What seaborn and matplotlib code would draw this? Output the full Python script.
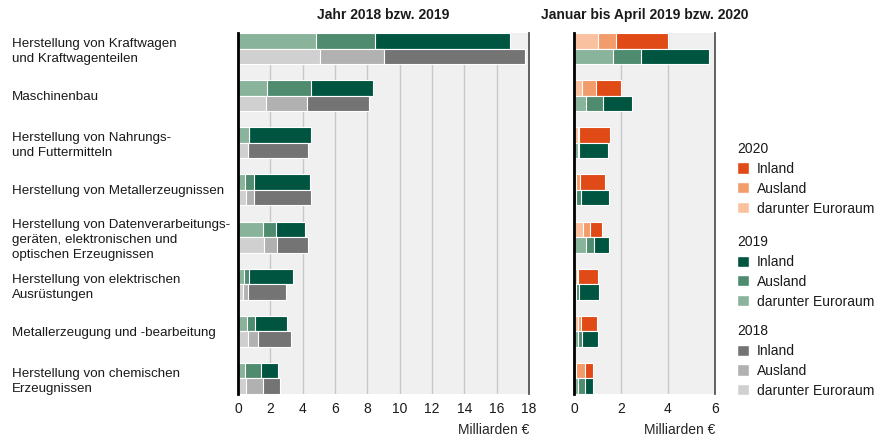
import pandas as pd
import matplotlib.pyplot as plt
import seaborn as sns
from matplotlib.patches import Patch

# Branchen (Reihenfolge von oben nach unten)
branchen = [
    'Herstellung von Kraftwagen\nund Kraftwagenteilen',
    'Maschinenbau',
    'Herstellung von Nahrungs-\nund Futtermitteln',
    'Herstellung von Metallerzeugnissen',
    'Herstellung von Datenverarbeitungs-\ngeräten, elektronischen und\noptischen Erzeugnissen',
    'Herstellung von elektrischen\nAusrüstungen',
    'Metallerzeugung und -bearbeitung',
    'Herstellung von chemischen\nErzeugnissen',
]

# Jahr 2018 bzw. 2019 (Milliarden Euro): darunter Euroraum, Ausland gesamt, Umsatz gesamt
jahr19_euro = [4.85, 1.81, 0.68, 0.45, 1.52, 0.35, 0.55, 0.45]
jahr19_ausland = [8.47, 4.54, 0.70, 0.97, 2.38, 0.68, 1.07, 1.44]
jahr19_gesamt = [16.80, 8.32, 4.52, 4.48, 4.17, 3.41, 3.00, 2.45]

jahr18_euro = [5.10, 1.73, 0.60, 0.49, 1.58, 0.29, 0.60, 0.47]
jahr18_ausland = [9.06, 4.25, 0.62, 1.00, 2.40, 0.62, 1.21, 1.56]
jahr18_gesamt = [17.75, 8.12, 4.36, 4.54, 4.34, 2.94, 3.27, 2.61]

# Januar bis April 2019 bzw. 2020
jan20_euro = [1.01, 0.36, 0.15, 0.10, 0.37, 0.11, 0.17, 0.10]
jan20_ausland = [1.78, 0.95, 0.20, 0.24, 0.68, 0.18, 0.30, 0.45]
jan20_gesamt = [3.98, 2.00, 1.54, 1.32, 1.19, 1.04, 0.97, 0.81]

jan19_euro = [1.65, 0.51, 0.15, 0.09, 0.51, 0.09, 0.17, 0.16]
jan19_ausland = [2.86, 1.25, 0.20, 0.30, 0.85, 0.20, 0.34, 0.45]
jan19_gesamt = [5.74, 2.46, 1.45, 1.48, 1.49, 1.05, 1.04, 0.82]

# Farben: Inland, Ausland, darunter Euroraum
farben = {
    '2020': ['#e04a17', '#f39c6b', '#f9c19f'],
    '2019': ['#005541', '#4f8c6f', '#8ab39b'],
    '2018': ['#747474', '#b1b1b1', '#d0d0d0'],
}


def make_df(jahre, euro, ausland, gesamt):
    rows = []
    for j, e, a, g in zip(jahre, euro, ausland, gesamt):
        for b, ev, av, gv in zip(branchen, e, a, g):
            rows.append({'Branche': b, 'Jahr': j, 'euro': ev, 'ausland': av, 'gesamt': gv})
    return pd.DataFrame(rows)


df_jahr = make_df(['2019', '2018'], [jahr19_euro, jahr18_euro],
                  [jahr19_ausland, jahr18_ausland], [jahr19_gesamt, jahr18_gesamt])
df_jan = make_df(['2020', '2019'], [jan20_euro, jan19_euro],
                 [jan20_ausland, jan19_ausland], [jan20_gesamt, jan19_gesamt])

sns.set_theme(style='white')
plt.rcParams['font.family'] = ['Liberation Sans', 'DejaVu Sans']
plt.rcParams['text.color'] = '#1a1a1a'

fig = plt.figure(figsize=(8.75, 4.41), dpi=100)
ax1 = fig.add_axes([238 / 875, 1 - 394 / 441, 291 / 875, 361 / 441])
ax2 = fig.add_axes([574 / 875, 1 - 394 / 441, 141 / 875, 361 / 441])


def draw_panel(ax, df, jahre, xmax, title):
    ax.set_facecolor('#f0f0f0')
    # gestapelt: zuerst Gesamt (Inland), dann Ausland, dann Euroraum darüber
    for i, col in enumerate(['gesamt', 'ausland', 'euro']):
        sns.barplot(data=df, x=col, y='Branche', hue='Jahr', hue_order=jahre,
                    palette={jahre[0]: farben[jahre[0]][i], jahre[1]: farben[jahre[1]][i]},
                    width=0.66, dodge=True, saturation=1, legend=False,
                    edgecolor='white', linewidth=0.8, ax=ax)
    ax.set_xlim(0, xmax)
    ax.set_ylim(7.33, -0.33)
    ax.set_xticks(range(0, xmax + 1, 2))
    ax.grid(axis='x', color='#c8c8c8', linewidth=1)
    ax.set_axisbelow(True)
    ax.tick_params(axis='both', length=0, labelsize=10, colors='#1a1a1a')
    ax.tick_params(axis='x', pad=6)
    for s in ['top', 'bottom']:
        ax.spines[s].set_visible(False)
    ax.spines['left'].set_color('black')
    ax.spines['left'].set_linewidth(2)
    ax.spines['right'].set_color('#555555')
    ax.spines['right'].set_linewidth(1.3)
    ax.set_ylabel('')
    ax.set_xlabel('Milliarden €', loc='right', fontsize=10, labelpad=5)
    ax.set_title(title, fontweight='bold', fontsize=10, pad=10)


draw_panel(ax1, df_jahr, ['2019', '2018'], 18, 'Jahr 2018 bzw. 2019')
draw_panel(ax2, df_jan, ['2020', '2019'], 6, 'Januar bis April 2019 bzw. 2020')

ax1.tick_params(axis='y', pad=163, labelsize=9.6)
for lbl in ax1.get_yticklabels():
    lbl.set_horizontalalignment('left')
    lbl.set_linespacing(1.35)
ax2.set_yticklabels([])

# Legende in drei Gruppen
teile = ['Inland', 'Ausland', 'darunter Euroraum']
for jahr, ytop in [('2020', 0.678), ('2019', 0.467), ('2018', 0.265)]:
    handles = [Patch(facecolor=c) for c in farben[jahr]]
    fig.legend(handles, teile, title=jahr, loc='upper left', bbox_to_anchor=(0.842, ytop),
               frameon=False, alignment='left', fontsize=10, title_fontsize=10,
               handlelength=0.85, handleheight=0.85, handletextpad=0.6,
               labelspacing=0.42, borderpad=0, borderaxespad=0)

fig.savefig('out.png', dpi=100)
